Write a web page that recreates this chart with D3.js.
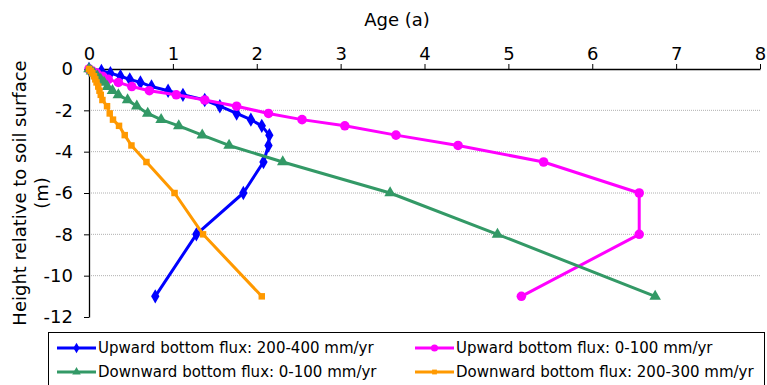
<!DOCTYPE html>
<html><head><meta charset="utf-8">
<script src="https://cdn.jsdelivr.net/npm/d3@7"></script>
<style>body{margin:0;background:#fff;} svg{display:block;font-family:"DejaVu Sans",Verdana,sans-serif;}</style>
</head><body>
<svg id="chart" width="767" height="385"></svg>
<script>
const depths = [0,-0.1,-0.2,-0.35,-0.5,-0.65,-0.85,-1.05,-1.25,-1.5,-1.8,-2.15,-2.45,-2.75,-3.2,-3.7,-4.5,-6,-8,-11];
const upward200_400 = [0,0.148,0.255,0.375,0.486,0.613,0.745,0.943,1.12,1.38,1.56,1.76,1.93,2.06,2.15,2.14,2.08,1.84,1.28,0.79];
const upward0_100 = [0,0.04,0.09,0.16,0.23,0.35,0.51,0.72,1.04,1.38,1.76,2.14,2.54,3.05,3.66,4.40,5.42,6.56,6.56,5.155];
const downward0_100 = [0,0.03,0.06,0.10,0.14,0.18,0.22,0.28,0.35,0.46,0.57,0.70,0.86,1.07,1.35,1.67,2.31,3.59,4.87,6.75];
const downward200_300 = [0,0.02,0.04,0.06,0.075,0.09,0.11,0.125,0.14,0.16,0.215,0.247,0.286,0.358,0.426,0.506,0.685,1.02,1.36,2.06];
const seriesNames = ["Upward bottom flux: 200-400 mm/yr","Upward bottom flux: 0-100 mm/yr","Downward bottom flux: 0-100 mm/yr","Downward bottom flux: 200-300 mm/yr"];
const xTicks = [0,1,2,3,4,5,6,7,8];
const yTicks = [0,-2,-4,-6,-8,-10,-12];
const xTitle = "Age (a)";
const yTitle1 = "Height relative to soil surface";
const yTitle2 = "(m)";

const series = [
  {name: seriesNames[0], values: upward200_400, color: "#0000ff", sym: d3.symbolDiamond, size: 60},
  {name: seriesNames[1], values: upward0_100, color: "#ff00ff", sym: d3.symbolCircle, size: 72},
  {name: seriesNames[2], values: downward0_100, color: "#339966", sym: d3.symbolTriangle, size: 58},
  {name: seriesNames[3], values: downward200_300, color: "#ff9900", sym: d3.symbolSquare, size: 42}
];

const svg = d3.select("#chart");
const x = d3.scaleLinear().domain([0,8]).range([89,760]);
const y = d3.scaleLinear().domain([-12,0]).range([317,69]);

// gridlines
svg.append("g").selectAll("line").data(yTicks.filter(d => d !== 0 && d !== -12)).join("line")
  .attr("x1", x(0)).attr("x2", x(8)).attr("y1", d => y(d)).attr("y2", d => y(d))
  .attr("stroke", "#b0b0b0").attr("stroke-width", 1).attr("stroke-dasharray", "1,1");

// axes
const xAxis = svg.append("g").attr("transform", `translate(0,${y(0)})`)
  .call(d3.axisTop(x).tickValues(xTicks).tickFormat(d3.format("d")).tickSizeInner(5).tickSizeOuter(0).tickPadding(4));
xAxis.selectAll("text").attr("font-size", 18).attr("fill", "#000").attr("font-family", "DejaVu Sans");
xAxis.select(".domain").attr("stroke", "#000").attr("stroke-width", 1.3);
xAxis.selectAll(".tick line").attr("stroke", "#000");

const yAxis = svg.append("g").attr("transform", `translate(${x(0)},0)`)
  .call(d3.axisLeft(y).tickValues(yTicks).tickFormat(d => d === 0 ? "0" : "-" + Math.abs(d)).tickSizeInner(5).tickSizeOuter(0).tickPadding(11));
yAxis.selectAll("text").attr("font-size", 18).attr("fill", "#000").attr("font-family", "DejaVu Sans");
yAxis.select(".domain").attr("stroke", "#000").attr("stroke-width", 1.3);
yAxis.selectAll(".tick line").attr("stroke", "#000");

// titles
svg.append("text").attr("x", 397).attr("y", 26).attr("text-anchor", "middle").attr("font-size", 18).text(xTitle);
svg.append("text").attr("transform", `translate(26,193) rotate(-90)`).attr("text-anchor", "middle").attr("font-size", 18).text(yTitle1);
svg.append("text").attr("transform", `translate(48,193) rotate(-90)`).attr("text-anchor", "middle").attr("font-size", 18).text(yTitle2);

// series
const line = d3.line().x(d => x(d[0])).y(d => y(d[1]));
series.forEach(s => {
  const pts = s.values.map((v, i) => [v, depths[i]]);
  const g = svg.append("g");
  g.append("path").attr("d", line(pts)).attr("fill", "none").attr("stroke", s.color).attr("stroke-width", 3).attr("stroke-linejoin", "round");
  g.selectAll("path.m").data(pts).join("path").attr("class", "m")
    .attr("transform", d => `translate(${x(d[0])},${y(d[1])})`)
    .attr("d", d3.symbol().type(s.sym).size(s.size)).attr("fill", s.color);
});

// legend
const lg = svg.append("g");
lg.append("rect").attr("x", 48.5).attr("y", 332.5).attr("width", 716).attr("height", 70).attr("fill", "none").attr("stroke", "#000").attr("stroke-width", 1);
const pos = [[57,348],[415,348],[57,372],[415,372]];
series.forEach((s, i) => {
  const [lx, ly] = pos[i];
  lg.append("line").attr("x1", lx).attr("x2", lx + 39).attr("y1", ly).attr("y2", ly).attr("stroke", s.color).attr("stroke-width", 3);
  lg.append("path").attr("transform", `translate(${lx + 19.5},${ly})`).attr("d", d3.symbol().type(s.sym).size(s.size * 0.55)).attr("fill", s.color);
  lg.append("text").attr("x", lx + 41).attr("y", ly).attr("dy", "0.35em").attr("font-size", 15).text(s.name);
});
</script>
</body></html>
